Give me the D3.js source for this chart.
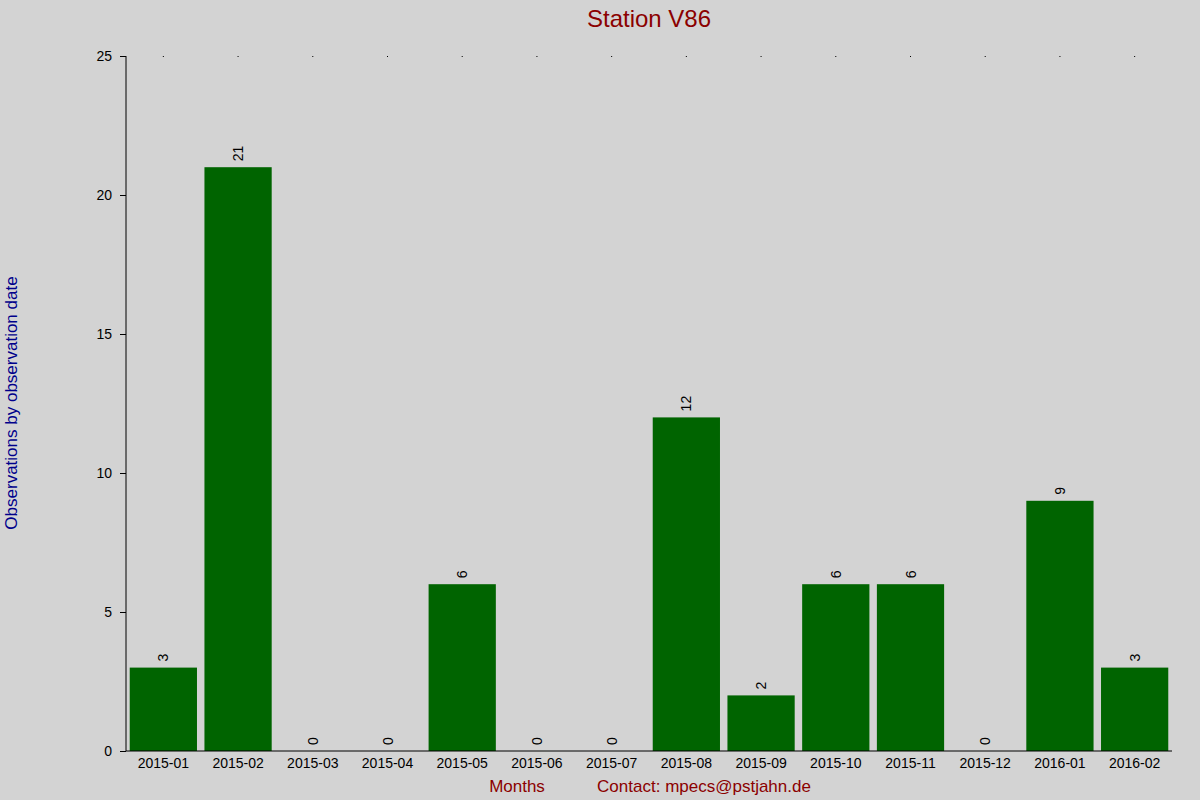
<!DOCTYPE html><html><head><meta charset="utf-8">
<script src="https://d3js.org/d3.v7.min.js"></script>
<style>body{margin:0;background:#d3d3d3}text{font-family:"Liberation Sans",Arial,sans-serif}</style></head><body>
<script>
const months=["2015-01","2015-02","2015-03","2015-04","2015-05","2015-06","2015-07","2015-08","2015-09","2015-10","2015-11","2015-12","2016-01","2016-02"];
const counts=[3,21,0,0,6,0,0,12,2,6,6,0,9,3];
const yTicks=[0,5,10,15,20,25];
const W=1200,H=800,L=126,R=1172,T=56,B=751;
const svg=d3.select("body").append("svg").attr("width",W).attr("height",H).style("background","#d3d3d3");
const x=d3.scaleBand().domain(months).range([L,R]).paddingInner(0.1).paddingOuter(0.05);
const y=d3.scaleLinear().domain([0,25]).range([B,T]);
svg.selectAll("rect.b").data(months).join("rect").attr("x",d=>x(d)).attr("width",x.bandwidth())
 .attr("y",(d,i)=>y(counts[i])).attr("height",(d,i)=>B-y(counts[i])).attr("fill","#006400");
svg.selectAll("text.v").data(months).join("text").attr("transform",(d,i)=>`translate(${x(d)+x.bandwidth()/2+5},${y(counts[i])-6}) rotate(-90)`)
 .attr("font-size",14).attr("fill","#000").text((d,i)=>counts[i]);
svg.selectAll("line.dot").data(months).join("line").attr("x1",d=>x(d)+x.bandwidth()/2).attr("x2",d=>x(d)+x.bandwidth()/2)
 .attr("y1",T).attr("y2",T+1).attr("stroke","#000");
const ya=svg.append("g").attr("transform",`translate(${L},0)`).call(d3.axisLeft(y).tickValues(yTicks).tickSize(6).tickPadding(8));
ya.select(".domain").attr("d",`M0,${T}V${B}`);
ya.selectAll("text").attr("font-size",14).attr("fill","#000").style("font-family","Liberation Sans");
const xa=svg.append("g").attr("transform",`translate(0,${B})`).call(d3.axisBottom(x).tickSize(0).tickPadding(7));
xa.select(".domain").attr("d",`M${L},0H${R}`);
xa.selectAll("text").attr("font-size",14).attr("fill","#000").style("font-family","Liberation Sans");
svg.append("text").attr("x",649).attr("y",27).attr("text-anchor","middle").attr("font-size",24).attr("fill","#8b0000").text("Station V86");
svg.append("text").attr("transform","translate(17,403) rotate(-90)").attr("text-anchor","middle").attr("font-size",17).attr("fill","#00008b").text("Observations by observation date");
svg.append("text").attr("x",517).attr("y",792).attr("text-anchor","middle").attr("font-size",17).attr("fill","#8b0000").text("Months");
svg.append("text").attr("x",704).attr("y",792).attr("text-anchor","middle").attr("font-size",17).attr("fill","#8b0000").text("Contact: mpecs@pstjahn.de");
</script></body></html>
